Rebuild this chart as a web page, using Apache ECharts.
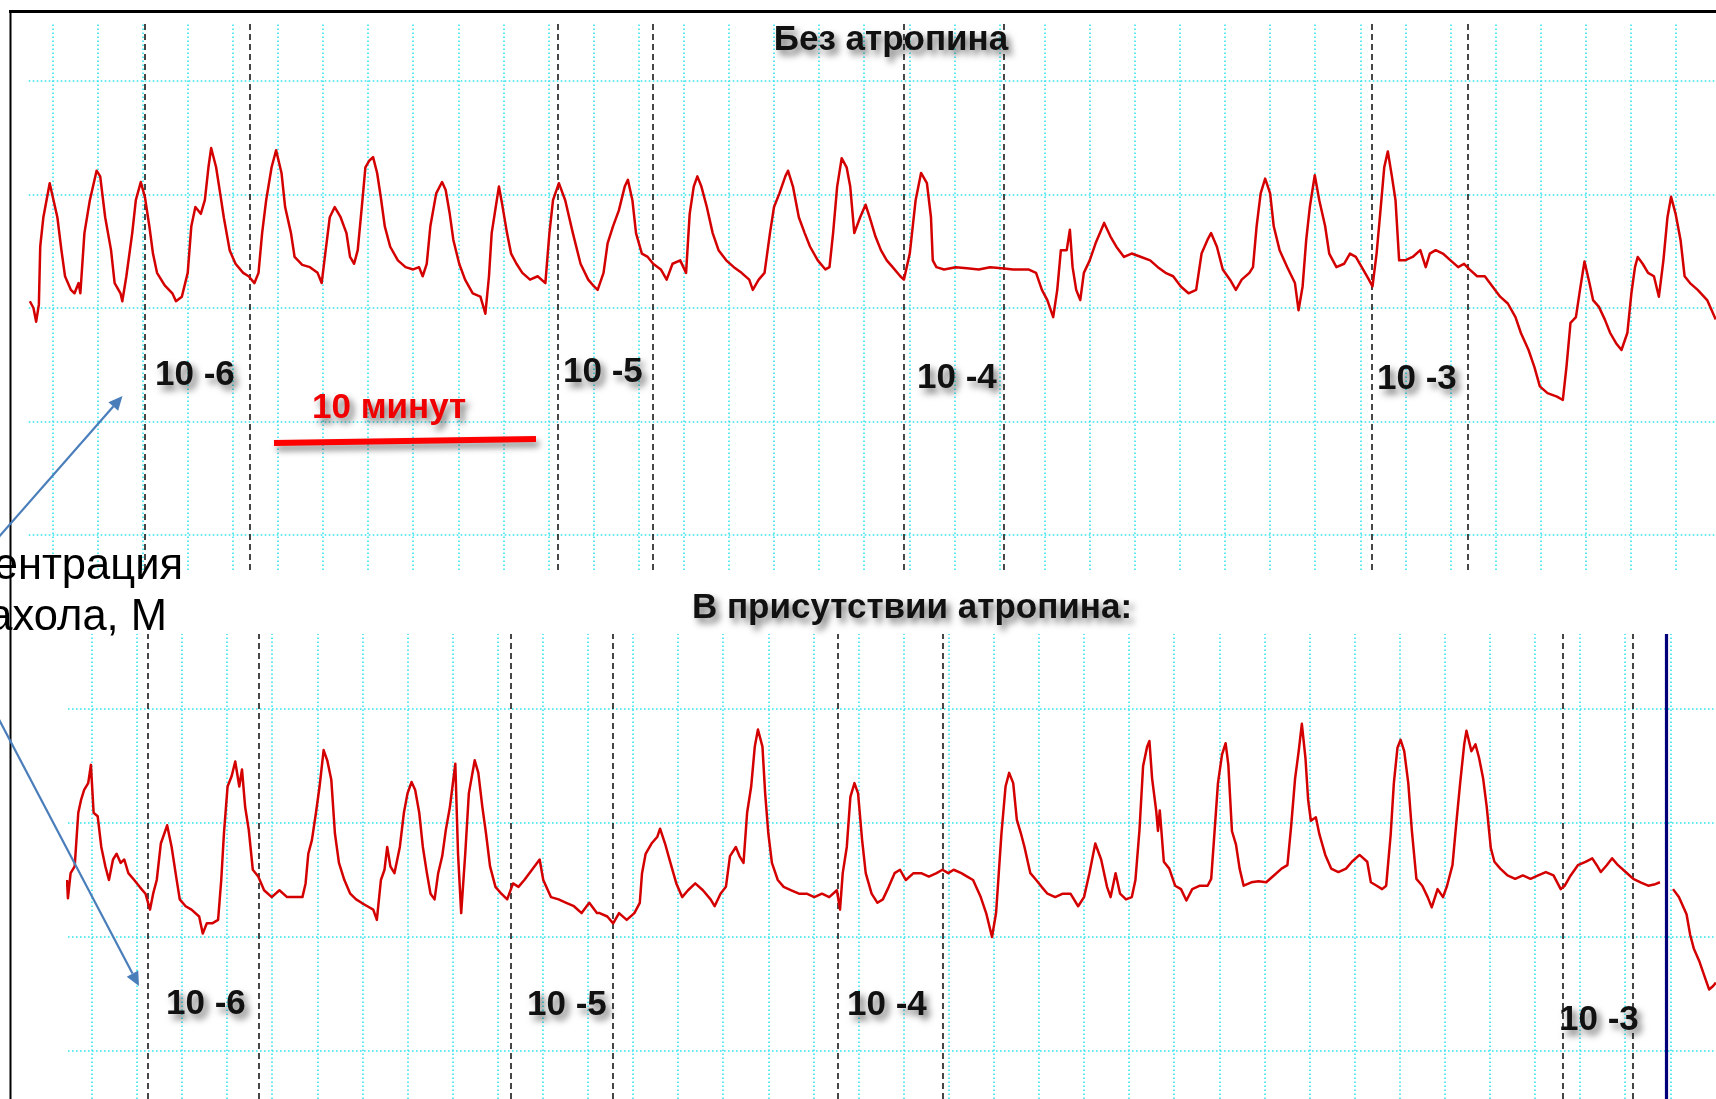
<!DOCTYPE html>
<html>
<head>
<meta charset="utf-8">
<script src="https://cdn.jsdelivr.net/npm/echarts@6/dist/echarts.min.js"></script>
<style>
html,body{margin:0;padding:0;background:#fff;overflow:hidden}
#c{width:1716px;height:1099px}
</style>
</head>
<body>
<div id="c"></div>
<script>
// ---------- DATA (x: chart divisions, y: chart divisions) ----------
const topTitle = 'Без атропина';
const bottomTitle = 'В присутствии атропина:';
const concLabels = ['10 -6', '10 -5', '10 -4', '10 -3'];
const axisNote = ['Концентрация', 'карбахола, М'];
const scaleLabel = '10 минут';

// vertical / horizontal chart-paper divisions
const topDivX = [0,1,2,3,4,5,6,7,8,9,10,11,12,13,14,15,16,17,18,19,20,21,22,23,24,25,26,27,28,29,30,31,32,33,34,35,36];
const topDivY = [0,1,2,3,4];
const botDivX = [0,1,2,3,4,5,6,7,8,9,10,11,12,13,14,15,16,17,18,19,20,21,22,23,24,25,26,27,28,29,30,31,32,33,34,35];
const botDivY = [0,1,2,3];

// drug addition marks (dashed) and washout (solid)
const topMarks = [2.04, 4.37, 11.20, 13.32, 18.88, 21.09, 29.25, 31.39];
const botMarks = [1.25, 3.71, 9.30, 11.54, 16.54, 18.87, 32.62, 34.17];
const botWash = [34.90];

// trace without atropine
const topTrace = [
[-0.50,2.06],[-0.42,2.00],[-0.36,1.88],[-0.30,2.03],[-0.27,2.54],[-0.20,2.80],[-0.06,3.10],[0.11,2.80],[0.20,2.51],[0.28,2.28],[0.41,2.16],[0.49,2.13],[0.58,2.22],[0.62,2.13],[0.71,2.66],[0.83,2.95],[0.98,3.21],[1.06,3.16],[1.17,2.80],[1.30,2.51],[1.38,2.22],[1.51,2.13],[1.55,2.06],[1.64,2.28],[1.77,2.66],[1.85,2.95],[1.96,3.11],[2.05,2.98],[2.15,2.72],[2.23,2.48],[2.32,2.31],[2.49,2.20],[2.66,2.13],[2.74,2.06],[2.87,2.10],[3.00,2.31],[3.08,2.72],[3.17,2.89],[3.29,2.83],[3.38,2.95],[3.46,3.24],[3.52,3.41],[3.63,3.24],[3.72,3.01],[3.80,2.80],[3.93,2.51],[4.06,2.39],[4.23,2.31],[4.35,2.28],[4.48,2.22],[4.57,2.31],[4.65,2.66],[4.74,2.95],[4.86,3.24],[4.96,3.39],[5.08,3.19],[5.16,2.89],[5.29,2.66],[5.37,2.45],[5.54,2.38],[5.71,2.36],[5.88,2.31],[5.97,2.22],[6.05,2.48],[6.15,2.80],[6.26,2.89],[6.39,2.80],[6.52,2.66],[6.60,2.45],[6.69,2.39],[6.77,2.51],[6.86,2.89],[6.94,3.24],[7.03,3.30],[7.11,3.33],[7.20,3.19],[7.28,2.98],[7.37,2.72],[7.49,2.54],[7.66,2.42],[7.83,2.36],[8.00,2.34],[8.13,2.36],[8.21,2.28],[8.30,2.39],[8.38,2.72],[8.51,3.01],[8.64,3.11],[8.72,3.04],[8.81,2.83],[8.89,2.60],[9.02,2.39],[9.15,2.25],[9.32,2.13],[9.49,2.10],[9.60,1.95],[9.68,2.28],[9.74,2.66],[9.83,2.89],[9.90,3.07],[9.97,2.92],[10.08,2.66],[10.17,2.48],[10.29,2.39],[10.42,2.31],[10.59,2.25],[10.76,2.28],[10.93,2.22],[11.02,2.66],[11.10,2.95],[11.23,3.10],
[11.37,2.95],[11.54,2.66],[11.71,2.39],[11.88,2.25],[12.01,2.19],[12.09,2.16],[12.22,2.31],[12.31,2.57],[12.43,2.72],[12.56,2.86],[12.69,3.07],[12.76,3.13],[12.86,2.95],[12.94,2.66],[13.07,2.48],[13.20,2.45],[13.32,2.39],[13.49,2.34],[13.62,2.25],[13.75,2.39],[13.92,2.42],[14.05,2.31],[14.13,2.83],[14.22,3.07],[14.30,3.16],[14.39,3.07],[14.51,2.89],[14.64,2.66],[14.77,2.51],[14.94,2.42],[15.11,2.36],[15.28,2.31],[15.45,2.25],[15.53,2.16],[15.66,2.25],[15.79,2.31],[15.91,2.66],[16.00,2.89],[16.12,3.01],[16.25,3.16],[16.31,3.21],[16.42,3.07],[16.55,2.80],[16.68,2.66],[16.80,2.54],[16.97,2.42],[17.14,2.34],[17.23,2.36],[17.31,2.66],[17.40,3.07],[17.50,3.32],[17.61,3.24],[17.69,3.07],[17.78,2.66],[17.91,2.80],[18.03,2.91],[18.12,2.80],[18.25,2.63],[18.37,2.51],[18.50,2.42],[18.63,2.36],[18.80,2.28],[18.88,2.25],[19.01,2.48],[19.14,2.95],[19.26,3.19],[19.39,3.10],[19.48,2.80],[19.52,2.42],[19.60,2.36],[19.77,2.34],[20.03,2.36],[20.28,2.35],[20.54,2.34],[20.79,2.36],[21.05,2.35],[21.30,2.34],[21.64,2.34],[21.81,2.31],[21.94,2.16],[22.06,2.07],[22.19,1.92],[22.28,2.16],[22.36,2.51],[22.49,2.51],[22.56,2.69],[22.62,2.36],[22.70,2.16],[22.79,2.07],[22.87,2.31],[23.00,2.42],[23.13,2.57],[23.32,2.75],[23.46,2.63],[23.59,2.54],[23.76,2.45],[23.93,2.48],[24.14,2.45],[24.34,2.42],
[24.51,2.36],[24.68,2.31],[24.85,2.28],[25.02,2.19],[25.19,2.13],[25.36,2.16],[25.48,2.48],[25.61,2.60],[25.69,2.66],[25.82,2.54],[25.95,2.34],[26.11,2.25],[26.24,2.16],[26.37,2.25],[26.54,2.31],[26.62,2.36],[26.70,2.72],[26.79,3.01],[26.89,3.14],[27.00,3.01],[27.08,2.72],[27.21,2.51],[27.38,2.36],[27.55,2.22],[27.63,1.98],[27.72,2.19],[27.80,2.60],[27.88,2.89],[27.99,3.17],[28.09,2.95],[28.22,2.72],[28.31,2.48],[28.47,2.36],[28.64,2.39],[28.77,2.48],[28.90,2.45],[29.06,2.34],[29.19,2.25],[29.27,2.19],[29.36,2.48],[29.44,2.83],[29.53,3.24],[29.61,3.38],[29.70,3.16],[29.78,2.95],[29.86,2.42],[29.99,2.42],[30.16,2.45],[30.33,2.51],[30.45,2.36],[30.54,2.48],[30.67,2.51],[30.83,2.48],[31.00,2.42],[31.17,2.36],[31.30,2.39],[31.42,2.34],[31.59,2.28],[31.76,2.28],[31.93,2.19],[32.10,2.10],[32.27,2.04],[32.44,1.92],[32.56,1.78],[32.73,1.63],[32.86,1.48],[32.98,1.31],[33.15,1.25],[33.36,1.22],[33.49,1.19],[33.57,1.48],[33.66,1.87],[33.78,1.92],[33.87,2.16],[33.97,2.41],[34.08,2.22],[34.16,2.07],[34.29,2.01],[34.42,1.90],[34.54,1.78],[34.67,1.69],[34.79,1.63],[34.92,1.78],[35.01,2.13],[35.09,2.36],[35.15,2.45],[35.26,2.39],[35.38,2.31],[35.51,2.28],[35.62,2.10],[35.72,2.42],[35.81,2.80],[35.89,2.98],[35.99,2.83],[36.10,2.60],[36.19,2.28],[36.31,2.22],[36.48,2.16],[36.69,2.07],[36.88,1.90]
];

// trace with atropine (before washout)
const botTraceA = [
[-0.55,1.50],[-0.53,1.34],[-0.47,1.56],[-0.38,1.62],[-0.30,2.09],[-0.24,2.20],[-0.17,2.29],[-0.08,2.35],[-0.02,2.51],[0.04,2.09],[0.13,2.06],[0.21,1.79],[0.30,1.62],[0.38,1.50],[0.47,1.68],[0.55,1.73],[0.64,1.65],[0.72,1.68],[0.81,1.56],[0.94,1.50],[1.06,1.44],[1.19,1.38],[1.29,1.24],[1.36,1.38],[1.44,1.50],[1.53,1.82],[1.61,1.91],[1.67,1.98],[1.77,1.79],[1.87,1.53],[1.95,1.33],[2.08,1.27],[2.21,1.24],[2.38,1.18],[2.46,1.03],[2.55,1.12],[2.67,1.12],[2.80,1.15],[2.87,1.50],[2.93,1.91],[3.01,2.32],[3.10,2.41],[3.18,2.54],[3.27,2.32],[3.33,2.47],[3.40,2.14],[3.48,1.94],[3.57,1.59],[3.69,1.53],[3.82,1.41],[3.99,1.35],[4.16,1.41],[4.33,1.35],[4.50,1.35],[4.67,1.35],[4.74,1.47],[4.80,1.73],[4.88,1.85],[4.97,2.09],[5.05,2.32],[5.14,2.64],[5.22,2.55],[5.31,2.38],[5.39,1.91],[5.48,1.65],[5.60,1.50],[5.73,1.38],[5.86,1.33],[5.98,1.30],[6.11,1.27],[6.24,1.24],[6.32,1.15],[6.41,1.50],[6.49,1.59],[6.55,1.79],[6.62,1.62],[6.71,1.56],[6.83,1.79],[6.92,2.09],[7.00,2.26],[7.09,2.36],[7.17,2.29],[7.26,2.09],[7.34,1.79],[7.43,1.56],[7.51,1.38],[7.60,1.33],[7.68,1.56],[7.77,1.71],[7.85,1.94],[7.94,2.14],[8.06,2.52],[8.12,1.73],[8.19,1.21],[8.28,1.73],[8.36,2.26],[8.49,2.55],[8.57,2.44],[8.66,2.14],[8.74,1.91],[8.83,1.62],[8.95,1.44],[9.08,1.38],[9.21,1.33],[9.34,1.47],[9.46,1.44],[9.59,1.50],[9.76,1.59],[9.93,1.68],[10.01,1.50],[10.18,1.35],[10.35,1.33],[10.52,1.30],[10.69,1.27],[10.86,1.21],[11.03,1.30],[11.20,1.21],
[11.26,1.21],[11.43,1.18],[11.56,1.12],[11.69,1.21],[11.86,1.15],[12.03,1.21],[12.15,1.30],[12.20,1.56],[12.28,1.73],[12.41,1.82],[12.54,1.88],[12.60,1.95],[12.71,1.82],[12.83,1.65],[12.96,1.47],[13.09,1.35],[13.22,1.41],[13.38,1.47],[13.55,1.41],[13.72,1.33],[13.81,1.27],[13.94,1.38],[14.06,1.44],[14.15,1.71],[14.28,1.79],[14.36,1.71],[14.45,1.65],[14.53,2.09],[14.62,2.32],[14.70,2.67],[14.77,2.82],[14.87,2.67],[14.93,2.26],[15.00,1.91],[15.08,1.65],[15.21,1.50],[15.34,1.44],[15.51,1.41],[15.68,1.38],[15.85,1.38],[16.02,1.35],[16.19,1.38],[16.35,1.35],[16.52,1.41],[16.59,1.24],[16.65,1.56],[16.74,1.79],[16.82,2.23],[16.91,2.35],[16.99,2.26],[17.08,1.85],[17.16,1.56],[17.29,1.38],[17.42,1.30],[17.54,1.33],[17.67,1.44],[17.80,1.56],[17.92,1.59],[18.05,1.50],[18.22,1.56],[18.39,1.56],[18.56,1.53],[18.73,1.56],[18.86,1.59],[18.99,1.56],[19.11,1.59],[19.28,1.56],[19.41,1.53],[19.54,1.50],[19.71,1.35],[19.83,1.21],[19.96,1.00],[20.05,1.21],[20.11,1.56],[20.17,1.91],[20.26,2.32],[20.34,2.44],[20.43,2.35],[20.51,2.03],[20.60,1.91],[20.68,1.79],[20.81,1.56],[20.94,1.50],[21.06,1.44],[21.19,1.38],[21.36,1.35],[21.53,1.38],[21.70,1.38],[21.87,1.27],[22.00,1.35],[22.12,1.56],[22.25,1.82],[22.38,1.68],[22.51,1.44],[22.59,1.35],[22.70,1.56],[22.80,1.38],[22.93,1.33],[23.06,1.35],[23.14,1.50],[23.23,1.94],[23.31,2.50],[23.40,2.67],
[23.45,2.72],[23.51,2.39],[23.60,2.11],[23.64,1.93],[23.68,2.11],[23.77,1.66],[23.89,1.60],[24.02,1.45],[24.15,1.42],[24.27,1.32],[24.40,1.42],[24.57,1.45],[24.74,1.45],[24.82,1.51],[24.89,1.90],[24.97,2.35],[25.06,2.60],[25.14,2.70],[25.20,2.51],[25.28,1.93],[25.37,1.81],[25.45,1.60],[25.54,1.45],[25.71,1.48],[25.87,1.49],[26.04,1.48],[26.21,1.54],[26.38,1.60],[26.51,1.63],[26.59,1.96],[26.68,2.39],[26.76,2.63],[26.83,2.87],[26.91,2.57],[26.97,2.20],[27.03,2.02],[27.14,2.05],[27.22,1.90],[27.35,1.72],[27.48,1.60],[27.64,1.57],[27.81,1.60],[27.94,1.66],[28.11,1.72],[28.28,1.66],[28.36,1.48],[28.49,1.45],[28.61,1.42],[28.70,1.45],[28.80,1.90],[28.87,2.35],[28.95,2.66],[29.02,2.73],[29.10,2.63],[29.19,2.35],[29.27,1.93],[29.37,1.51],[29.50,1.45],[29.62,1.35],[29.71,1.26],[29.84,1.42],[29.96,1.35],[30.05,1.45],[30.17,1.63],[30.26,2.02],[30.34,2.35],[30.43,2.69],[30.48,2.81],[30.59,2.63],[30.68,2.69],[30.76,2.57],[30.85,2.39],[30.93,2.14],[31.02,1.78],[31.10,1.66],[31.23,1.60],[31.39,1.54],[31.56,1.51],[31.73,1.54],[31.90,1.51],[32.07,1.54],[32.24,1.57],[32.41,1.54],[32.57,1.42],[32.66,1.45],[32.79,1.54],[32.95,1.63],[33.12,1.66],[33.27,1.69],[33.37,1.63],[33.46,1.57],[33.59,1.63],[33.71,1.69],[33.84,1.63],[34.01,1.57],[34.18,1.51],[34.34,1.48],[34.51,1.45],[34.64,1.46],[34.77,1.48]
];
// trace with atropine (after washout)
const botTraceB = [
[35.06,1.42],[35.19,1.35],[35.36,1.20],[35.44,1.02],[35.52,0.90],[35.65,0.78],[35.78,0.63],[35.86,0.54],[35.95,0.57],[36.01,0.60]
];

// ---------- STYLE ----------
const PAPER = '#33e4f0';
const TRACE = '#d40000';
const FONT = '"Liberation Sans", Arial, Helvetica, sans-serif';
const SHADOW = { textShadowColor: 'rgba(0,0,0,0.55)', textShadowBlur: 7, textShadowOffsetX: 4, textShadowOffsetY: 5 };

function paperLines(divX, divY) {
  return {
    silent: true, symbol: ['none', 'none'], label: { show: false }, emphasis: { disabled: true },
    animation: false,
    lineStyle: { color: PAPER, width: 1.6, type: [1.6, 2.4], opacity: 1 },
    data: divX.map(v => ({ xAxis: v })).concat(divY.map(v => ({ yAxis: v })))
  };
}
function markLines(vals, style) {
  return {
    silent: true, symbol: ['none', 'none'], label: { show: false }, emphasis: { disabled: true },
    animation: false, lineStyle: style, data: vals.map(v => ({ xAxis: v }))
  };
}
function traceSeries(data, xi) {
  return {
    type: 'line', xAxisIndex: xi, yAxisIndex: xi, data: data, showSymbol: false, symbol: 'none',
    silent: true, z: 5, lineStyle: { color: TRACE, width: 2.5, join: 'round' }, animation: false
  };
}
function text(str, x, y, font, fill, align, shadow) {
  const st = { text: str, x: x, y: y, font: font, fill: fill,
    align: align, textAlign: align, verticalAlign: 'middle', textVerticalAlign: 'middle' };
  if (shadow) Object.assign(st, SHADOW);
  return { type: 'text', z: 100, silent: true, style: st };
}
function arrow(x1, y1, x2, y2, color) {
  const dx = x2 - x1, dy = y2 - y1, L = Math.hypot(dx, dy), ux = dx / L, uy = dy / L;
  const hl = 14, hw = 6.5;
  const bx = x2 - ux * hl, by = y2 - uy * hl;
  return [
    { type: 'line', z: 90, silent: true, shape: { x1: x1, y1: y1, x2: bx, y2: by }, style: { stroke: color, lineWidth: 2.2 } },
    { type: 'polygon', z: 90, silent: true, shape: { points: [[x2, y2], [bx - uy * hw, by + ux * hw], [bx + uy * hw, by - ux * hw]] }, style: { fill: color } }
  ];
}

const BOLD = 'bold 35px ' + FONT;
const NOTE = '43.5px ' + FONT;
const graphics = [
  // frame
  { type: 'line', z: 80, silent: true, shape: { x1: 9, y1: 11.5, x2: 1716, y2: 11.5 }, style: { stroke: '#000', lineWidth: 3 } },
  { type: 'line', z: 80, silent: true, shape: { x1: 10.5, y1: 10, x2: 10.5, y2: 1099 }, style: { stroke: '#000', lineWidth: 2 } },
  // titles
  text(topTitle, 891, 40, BOLD, '#111', 'center', true),
  text(bottomTitle, 912, 608, BOLD, '#111', 'center', true),
  // concentration labels, top
  text(concLabels[0], 155, 375, BOLD, '#111', 'left', true),
  text(concLabels[1], 563, 372, BOLD, '#111', 'left', true),
  text(concLabels[2], 917, 378, BOLD, '#111', 'left', true),
  text(concLabels[3], 1377, 379, BOLD, '#111', 'left', true),
  // concentration labels, bottom
  text(concLabels[0], 166, 1004, BOLD, '#111', 'left', true),
  text(concLabels[1], 527, 1005, BOLD, '#111', 'left', true),
  text(concLabels[2], 847, 1005, BOLD, '#111', 'left', true),
  text(concLabels[3], 1559, 1020, BOLD, '#111', 'left', true),
  // time scale bar
  text(scaleLabel, 312, 408, BOLD, '#f00000', 'left', true),
  { type: 'line', z: 95, silent: true, shape: { x1: 274, y1: 443, x2: 536, y2: 439 },
    style: { stroke: '#ff0000', lineWidth: 6, shadowColor: 'rgba(0,0,0,0.45)', shadowBlur: 6, shadowOffsetX: 3, shadowOffsetY: 5 } },
  // axis note (clipped on the left like the original)
  text(axisNote[0], 183, 567, NOTE, '#000', 'right', false),
  text(axisNote[1], 167, 618, NOTE, '#000', 'right', false)
].concat(arrow(-10, 547, 122.5, 396, '#4a7ebb'), arrow(-6, 710, 139, 986, '#4a7ebb'));

const option = {
  animation: false,
  backgroundColor: '#fff',
  grid: [
    { left: 28.7, top: 22, width: 1716 - 28.7, height: 548 },
    { left: 68, top: 634, width: 1716 - 68, height: 1099 - 634 }
  ],
  xAxis: [
    { gridIndex: 0, type: 'value', min: -0.5255, max: 36.886, show: false },
    { gridIndex: 1, type: 'value', min: -0.528, max: 36.013, show: false }
  ],
  yAxis: [
    { gridIndex: 0, type: 'value', min: -0.308, max: 4.520, show: false },
    { gridIndex: 1, type: 'value', min: -0.421, max: 3.658, show: false }
  ],
  series: [
    { type: 'line', xAxisIndex: 0, yAxisIndex: 0, data: [], z: 1, silent: true, markLine: paperLines(topDivX, topDivY) },
    { type: 'line', xAxisIndex: 1, yAxisIndex: 1, data: [], z: 1, silent: true, markLine: paperLines(botDivX, botDivY) },
    { type: 'line', xAxisIndex: 0, yAxisIndex: 0, data: [], z: 2, silent: true,
      markLine: markLines(topMarks, { color: '#1a1a1a', width: 1.6, type: [6, 4] }) },
    { type: 'line', xAxisIndex: 1, yAxisIndex: 1, data: [], z: 2, silent: true,
      markLine: markLines(botMarks, { color: '#1a1a1a', width: 1.6, type: [6, 4] }) },
    traceSeries(topTrace, 0),
    traceSeries(botTraceA, 1),
    traceSeries(botTraceB, 1),
    { type: 'line', xAxisIndex: 1, yAxisIndex: 1, data: [], z: 6, silent: true,
      markLine: markLines(botWash, { color: '#00007a', width: 3.2, type: 'solid' }) }
  ],
  graphic: graphics
};

const chart = echarts.init(document.getElementById('c'), null, { renderer: 'canvas', width: 1716, height: 1099 });
chart.setOption(option);
</script>
</body>
</html>
